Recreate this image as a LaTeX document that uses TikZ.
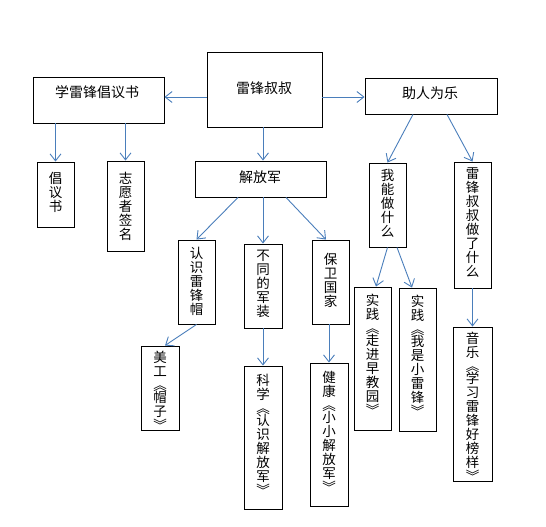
\documentclass[tikz,border=0pt]{standalone}
\usepackage{fontspec}
\newfontfamily\cjk{Noto Sans CJK SC}
\usetikzlibrary{arrows.meta}
\definecolor{arrblue}{RGB}{74,126,187}
\tikzset{
  box/.style={draw=black, line width=0.9pt, fill=white, inner sep=0pt},
  htext/.style={font=\cjk\fontsize{14}{14}\selectfont, inner sep=0pt},
  vtext/.style={font=\cjk\fontsize{13.5}{14}\selectfont, inner sep=0pt, align=center, anchor=north},
  arr/.style={draw=arrblue, line width=0.9pt, -{Straight Barb[length=7pt,width=11pt]}},
}
\newcommand\bx[5]{\node[box, minimum width={#4pt-#2pt}, minimum height={#5pt-#3pt}] (#1) at ({(#2+#4)/2},{(#3+#5)/2}) {};}
\begin{document}
\begin{tikzpicture}[x=1pt,y=-1pt]
\useasboundingbox (0,0) rectangle (546,527);
% boxes
\bx{lf}{207}{52}{322}{127}
\bx{xl}{33}{77}{164}{123}
\bx{zr}{365}{78}{497}{114}
\bx{cy}{37}{162}{74}{227}
\bx{zy}{107}{161}{144}{251}
\bx{jf}{195}{161}{326}{197}
\bx{rs}{178}{240}{215}{324}
\bx{bt}{244}{244}{282}{328}
\bx{bw}{312}{240}{349}{324}
\bx{mg}{141}{346}{179}{430}
\bx{kx}{244}{366}{282}{509}
\bx{jk}{310}{363}{348}{506}
\bx{wn}{369}{163}{406}{247}
\bx{lz}{454}{162}{491}{288}
\bx{sa}{354}{287}{391}{430}
\bx{sb}{399}{288}{436}{431}
\bx{yy}{453}{327}{492}{481}
% horizontal texts
\node[htext] (lft) at (264,88) {雷锋叔叔};
\node[htext] (xlt) at (97,92) {学雷锋倡议书};
\node[htext] (zrt) at (430,93) {助人为乐};
\node[htext] (jft) at (260,177) {解放军};
% vertical texts
\node[vtext] (cyt) at ([yshift=-10pt]cy.north) {倡\\议\\书};
\node[vtext] (zyt) at ([yshift=-11pt]zy.north) {志\\愿\\者\\签\\名};
\node[vtext] (rst) at ([yshift=-7pt]rs.north) {认\\识\\雷\\锋\\帽};
\node[vtext] (btt) at ([yshift=-6pt]bt.north) {不\\同\\的\\军\\装};
\node[vtext] (bwt) at ([yshift=-13pt]bw.north) {保\\卫\\国\\家};
\node[vtext] (mgt) at ([yshift=-5pt]mg.north) {美\\工\\︽\\[-2pt]帽\\子\\︾};
\node[vtext] (kxt) at ([yshift=-8pt]kx.north) {科\\学\\︽\\[-2pt]认\\识\\解\\放\\军\\︾};
\node[vtext] (jkt) at ([yshift=-8pt]jk.north) {健\\康\\︽\\[-2pt]小\\小\\解\\放\\军\\︾};
\node[vtext] (wnt) at ([yshift=-7pt]wn.north) {我\\能\\做\\什\\么};
\node[vtext] (lzt) at ([yshift=-6pt]lz.north) {雷\\锋\\叔\\叔\\做\\了\\什\\么};
\node[vtext] (sat) at ([yshift=-7pt]sa.north) {实\\践\\︽\\[-2pt]走\\进\\早\\教\\园\\︾};
\node[vtext] (sbt) at ([yshift=-7pt]sb.north) {实\\践\\︽\\[-2pt]我\\是\\小\\雷\\锋\\︾};
\node[vtext] (yyt) at ([yshift=-5pt]yy.north) {音\\乐\\︽\\[-2pt]学\\习\\雷\\锋\\好\\榜\\样\\︾};
% connectors
\draw[arr] ([yshift=-7.5pt]lf.west) -- ([yshift=3pt]xl.east);
\draw[arr] ([yshift=-7.5pt]lf.east) -- ([yshift=-1pt]zr.west);
\draw[arr] (cy.north |- xl.south) -- (cy.north);
\draw[arr] (zy.north |- xl.south) -- (zy.north);
\draw[arr] ([xshift=-1.5pt]lf.south) -- ([xshift=2.5pt]jf.north);
\draw[arr] ([xshift=-22.5pt]jf.south) -- (rs.north);
\draw[arr] ([xshift=2.5pt]jf.south) -- (bt.north);
\draw[arr] ([xshift=25.5pt]jf.south) -- ([xshift=-4.5pt]bw.north);
\draw[arr] (rs.south) -- ([xshift=5pt]mg.north);
\draw[arr] (bt.south) -- (kx.north);
\draw[arr] (jk.north |- bw.south) -- (jk.north);
\draw[arr] ([xshift=-18pt]zr.south) -- (wn.north);
\draw[arr] ([xshift=16pt]zr.south) -- (lz.north);
\draw[arr] (wn.south) -- ([xshift=3.5pt]sa.north);
\draw[arr] ([xshift=9.5pt]wn.south) -- ([xshift=-5.5pt]sb.north);
\draw[arr] (lz.south) -- (yy.north);
\end{tikzpicture}
\end{document}
